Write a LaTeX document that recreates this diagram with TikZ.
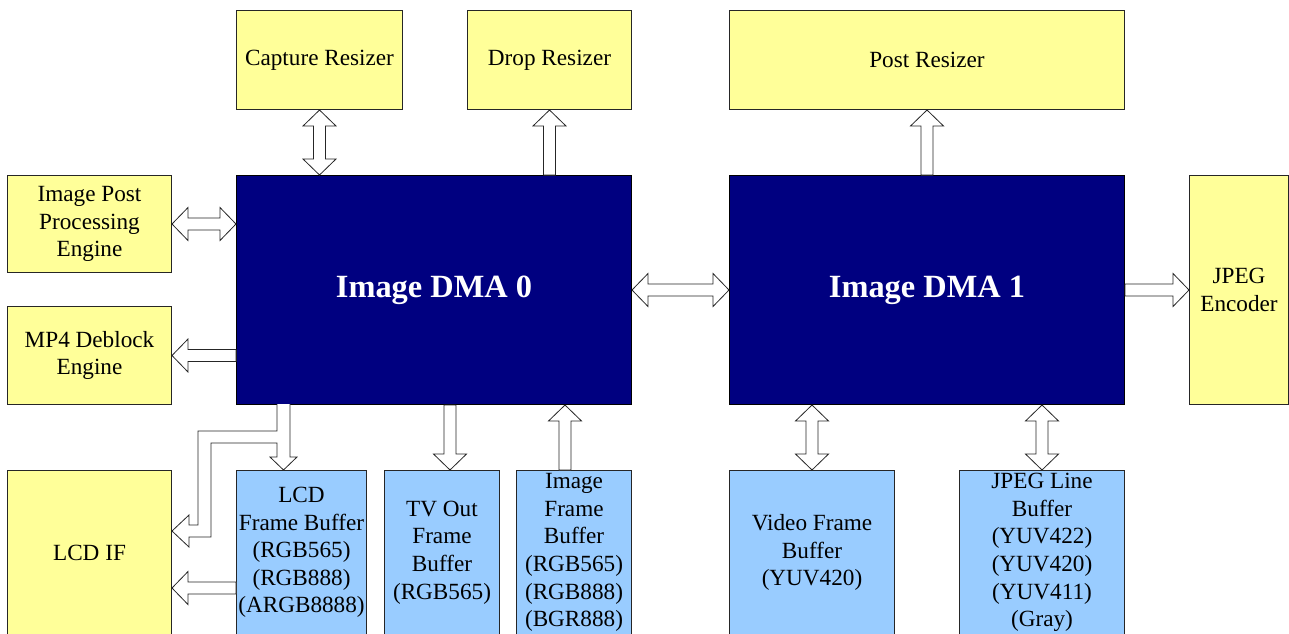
\documentclass[tikz,border=0pt]{standalone}
\usepackage{fontspec}
\setmainfont{Liberation Serif}
\usetikzlibrary{calc}
\definecolor{boxyellow}{HTML}{FFFF99}
\definecolor{boxblue}{HTML}{99CCFF}
\definecolor{dmablue}{HTML}{000080}
\tikzset{
  blk/.style={draw=black!85, line width=1pt, anchor=north west, inner sep=0pt, align=center,
    font=\fontsize{23.2}{27.6}\selectfont},
  ybox/.style={blk, fill=boxyellow},
  bbox/.style={blk, fill=boxblue},
  dmabox/.style={blk, fill=dmablue, draw=black, text=white, font=\fontsize{32.4}{38}\selectfont\bfseries},
  barrow/.style={draw=black!85, fill=white, line width=0.8pt, line join=miter}
}
\newcommand\sarrow[2]{\draw[barrow] let \p1=(#1), \p2=(#2),
  \n1={veclen(\x2-\x1,\y2-\y1)}, \n2={atan2(\y2-\y1,\x2-\x1)} in
  [shift={(\p1)}, rotate=\n2]
  (0pt,-6pt) -- ({\n1-16pt},-6pt) -- ({\n1-16pt},-16.5pt) -- ({\n1+0pt},0pt)
  -- ({\n1-16pt},16.5pt) -- ({\n1-16pt},6pt) -- (0pt,6pt) -- cycle;}
\newcommand\darrow[2]{\draw[barrow] let \p1=(#1), \p2=(#2),
  \n1={veclen(\x2-\x1,\y2-\y1)}, \n2={atan2(\y2-\y1,\x2-\x1)} in
  [shift={(\p1)}, rotate=\n2]
  (0pt,0pt) -- (16pt,-16.5pt) -- (16pt,-6pt) -- ({\n1-16pt},-6pt) -- ({\n1-16pt},-16.5pt)
  -- ({\n1+0pt},0pt) -- ({\n1-16pt},16.5pt) -- ({\n1-16pt},6pt) -- (16pt,6pt) -- (16pt,16.5pt) -- cycle;}
\begin{document}
\begin{tikzpicture}[x=1pt,y=-1pt]
\useasboundingbox (0,0) rectangle (1289,633);
\clip (0,0) rectangle (1289,633);
\fill[white] (0,0) rectangle (1289,633);
% top row
\node[ybox, minimum width=166, minimum height=99] (cap) at (236,10) {Capture Resizer};
\node[ybox, minimum width=164, minimum height=99] (drop) at (467,10) {Drop Resizer};
\node[ybox, minimum width=395, minimum height=99] (post) at (729,10) {Post Resizer};
% left column
\node[ybox, minimum width=164, minimum height=97] (ippe) at (7,175) {Image Post\\Processing\\Engine};
\node[ybox, minimum width=164, minimum height=98] (mp4) at (7,306) {MP4 Deblock\\Engine};
% DMA blocks
\node[dmabox, minimum width=395, minimum height=229] (dma0) at (236,175) {Image DMA 0};
\node[dmabox, minimum width=395, minimum height=229] (dma1) at (729,175) {Image DMA 1};
\node[ybox, minimum width=99, minimum height=229] (jpeg) at (1189,175) {JPEG\\Encoder};
% bottom row
\node[ybox, minimum width=164, minimum height=164] (lcdif) at (7,470) {LCD IF};
\node[bbox, minimum width=130, minimum height=164] (lcdfb) at (236,470) {LCD\\Frame Buffer\\(RGB565)\\(RGB888)\\(ARGB8888)};
\node[bbox, minimum width=115, minimum height=164] (tvfb) at (384,470) {TV Out\\Frame\\Buffer\\(RGB565)};
\node[bbox, minimum width=115, minimum height=164] (imgfb) at (516,470) {Image\\Frame\\Buffer\\(RGB565)\\(RGB888)\\(BGR888)};
\node[bbox, minimum width=165, minimum height=164] (vfb) at (729,470) {Video Frame\\Buffer\\(YUV420)};
\node[bbox, minimum width=165, minimum height=164] (jlb) at (959,470) {JPEG Line\\Buffer\\(YUV422)\\(YUV420)\\(YUV411)\\(Gray)};
% helper coordinates
\coordinate (tvx) at (450,0);
\coordinate (imx) at (565,0);
\coordinate (lt) at (0,588);
% connectors
\darrow{cap.south}{cap.south |- dma0.north}
\sarrow{drop.south |- dma0.north}{drop.south}
\sarrow{post.south |- dma1.north}{post.south}
\darrow{ippe.east}{ippe.east -| dma0.west}
\sarrow{mp4.east -| dma0.west}{mp4.east}
\darrow{dma0.east}{dma1.west}
\sarrow{dma1.east}{jpeg.west}
\sarrow{dma0.south -| tvx}{tvfb.north -| tvx}
\sarrow{imgfb.north -| imx}{dma0.south -| imx}
\darrow{dma1.south -| vfb.north}{vfb.north}
\darrow{dma1.south -| jlb.north}{jlb.north}
\sarrow{lcdfb.west |- lt}{lcdif.east |- lt}
% split arrow from DMA 0 to LCD frame buffer and LCD IF
\filldraw[barrow] (277,404) -- (277,431) -- (198,431) -- (198,525) -- (189,525) -- (189,515)
  -- (lcdif.east |- 0,531) -- (189,547) -- (189,537) -- (211,537) -- (211,443) -- (277,443)
  -- (277,457) -- (270,457) -- (lcdfb.north -| 283.5,0) -- (297,457) -- (290,457) -- (290,404);
\end{tikzpicture}
\end{document}
